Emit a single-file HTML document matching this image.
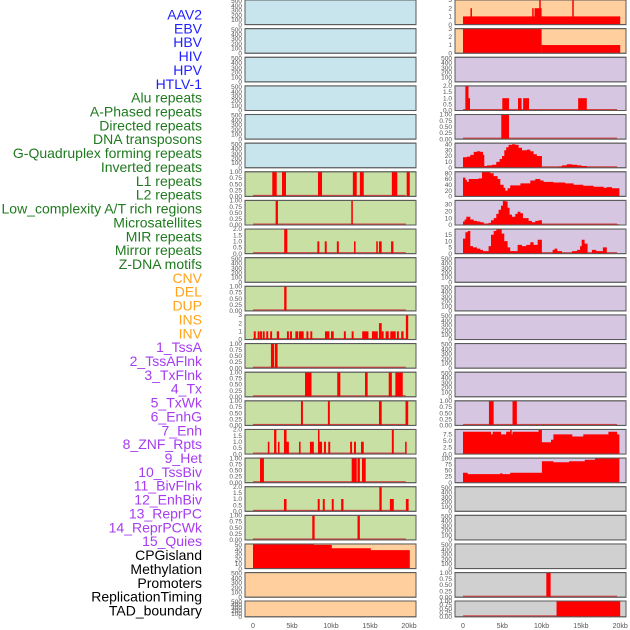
<!DOCTYPE html>
<html><head><meta charset="utf-8"><style>
html,body{margin:0;padding:0;background:#fff;}
svg{display:block;font-family:"Liberation Sans",sans-serif;}
</style></head><body>
<svg id="chart" width="630" height="630" viewBox="0 0 630 630" xmlns="http://www.w3.org/2000/svg"></svg>
<script>
const trackLabels = ["AAV2","EBV","HBV","HIV","HPV","HTLV-1","Alu repeats","A-Phased repeats","Directed repeats","DNA transposons","G-Quadruplex forming repeats","Inverted repeats","L1 repeats","L2 repeats","Low_complexity A/T rich regions","Microsatellites","MIR repeats","Mirror repeats","Z-DNA motifs","CNV","DEL","DUP","INS","INV","1_TssA","2_TssAFlnk","3_TxFlnk","4_Tx","5_TxWk","6_EnhG","7_Enh","8_ZNF_Rpts","9_Het","10_TssBiv","11_BivFlnk","12_EnhBiv","13_ReprPC","14_ReprPCWk","15_Quies","CPGisland","Methylation","Promoters","ReplicationTiming","TAD_boundary"];
const labelColors = ["#1f1fff","#1f7a1f","#ffa31a","#a63cf0","#000000"];
const labelGroupSizes = [6,13,5,15,5];
const xTickValues = [0,5,10,15,20];
const xTickLabels = ["0","5kb","10kb","15kb","20kb"];

// left column bars [startKb, endKb, value]
const L7 = [[2.47,3.04,1],[3.72,4.23,1],[8.33,8.85,1],[12.8,13.3,1],[13.7,14.2,1],[17.8,18.5,1],[19.7,20.1,1]];
const L8 = [[2.9,3.2,1],[12.6,12.8,1]];
const L9 = [[4.0,4.4,2],[8.25,8.5,1],[9.2,9.45,1],[10.75,11,1],[12.95,13.15,1],[15.8,16,1],[16.15,16.5,1],[17.7,18,1]];
const L11 = [[4.0,4.3,1]];
const L12 = [[0.1,0.35,1],[0.6,0.85,1],[0.9,1.15,1],[1.25,1.5,1],[1.7,1.95,1],[2.2,2.45,1],[3.05,3.35,1],[4.35,4.6,1],[4.75,5.0,1],[5.43,5.8,1],[5.9,6.5,1],[6.85,7.1,1],[7.35,7.6,1],[9.23,9.8,1],[10.0,10.35,1],[11.65,11.9,1],[12.65,12.9,1],[14.0,14.8,1],[15.25,16.0,1],[16.15,16.5,2],[16.5,16.75,1],[17.0,17.4,1],[17.6,18.3,1],[18.45,18.7,1],[19.0,19.3,1],[19.6,19.9,3]];
const L13 = [[2.3,2.7,1],[2.8,3.15,1]];
const L14 = [[6.67,7.5,1],[10.8,11.2,1],[14.36,14.7,1],[17.4,17.8,1],[18.25,19.2,1]];
const L15 = [[6.15,6.4,1],[9.6,9.85,1],[16.15,16.5,1],[19.55,19.9,1]];
const L16 = [[1.9,2.1,1],[2.7,3.0,2],[3.2,3.4,1],[3.97,4.3,2],[4.3,4.6,1],[5.9,6.1,1],[7.3,7.8,1],[8.33,8.5,2],[8.5,8.85,1],[9.1,9.35,1],[9.65,9.9,1],[12.45,12.7,1],[12.95,13.2,1],[13.85,14.2,1],[17.8,18.05,2],[19.5,19.7,1]];
const L17 = [[0.9,1.4,1],[12.65,13.3,1],[13.4,13.7,1],[13.97,14.45,1]];
const L18 = [[3.97,4.3,1],[8.3,8.55,1],[8.95,9.2,1],[10.1,10.35,1],[11.3,11.6,1],[16.2,16.5,2],[17.55,18.05,1],[19.6,19.95,1]];
const L19 = [[7.6,7.9,1],[13.4,13.7,1]];
// step series [kb, value] held until next point
const L20 = [[0,51],[2.8,51.5],[7.8,50],[10.1,43],[15.1,39],[20.1,0]];

// right column
const R1 = [[0,20,1],[0.95,1.1,2],[8.8,8.95,2],[9.1,10.0,2],[9.7,9.8,3],[13.9,14.05,3]];
const R2 = [[0,10,3],[10,20,1]];
const R4 = [[0.3,0.7,2],[0.7,0.85,1],[5.0,5.85,1],[7.0,7.45,1],[7.65,8.4,1],[14.65,15.75,1]];
const R5 = [[4.87,5.85,1]];
const R6 = [[0,18],[0.5,19],[0.93,22],[1.36,27],[1.78,28],[2.2,27],[2.54,22],[2.71,3],[3.05,4],[3.69,5],[4.24,10],[4.66,15],[4.96,20],[5.25,30],[5.5,35],[5.8,39],[6.23,40],[6.65,39],[7.08,34],[7.5,30],[8.14,31],[8.56,28],[8.98,23],[9.4,20],[10.04,0],[12.16,2],[12.58,4],[13.2,6],[13.86,5],[14.5,4],[15.1,3],[15.76,0],[19.9,0]];
const R7 = [[0,65],[0.3,57],[0.5,50],[0.72,60],[1.57,60],[2.0,62],[2.42,85],[3.05,85],[3.47,80],[3.9,70],[4.4,60],[4.75,40],[5.17,30],[5.38,20],[5.68,28],[6.0,38],[6.65,38],[7.3,45],[8.14,45],[8.56,55],[9.2,60],[9.83,55],[10.25,50],[11.5,48],[13.0,45],[14.07,40],[15.3,37],[16.6,33],[17.9,30],[18.3,32],[18.94,28],[19.9,0]];
const R8 = [[0,5],[0.2,8],[0.42,12],[0.93,8],[1.36,6],[1.78,5],[2.2,4],[2.63,2],[3.26,3],[3.56,7],[3.9,10],[4.24,16],[4.53,22],[4.83,28],[5.08,35],[5.38,34],[5.68,25],[5.93,15],[6.23,12],[6.65,16],[6.95,19],[7.3,17],[7.63,10],[8.35,6],[8.77,4],[9.2,6],[9.62,7],[10.04,1],[19.9,0]];
const R9 = [[0,12],[0.3,17],[0.6,18],[0.93,6],[1.27,5],[1.78,4],[2.2,3],[2.54,2],[3.26,6],[3.56,15],[3.9,18],[4.24,19.5],[4.92,16],[5.25,10],[5.68,5],[6.0,2],[6.95,7],[7.5,6],[8.05,7],[8.56,9],[8.98,7],[9.5,11],[10.04,0],[11.4,3],[11.65,4],[12.0,2],[12.58,0],[13.86,2],[14.5,3],[14.9,6],[15.1,11],[15.47,8],[15.85,0],[16.4,3],[16.95,2],[17.8,5],[18.3,0],[19.9,0]];
const R15 = [[3.3,3.9,1],[6.3,6.85,1]];
const R16 = [[0,8.5],[3.56,7.5],[3.78,8.5],[4.83,7.5],[5.5,8.5],[6.0,9.3],[6.2,7.5],[6.3,8.5],[9.62,9.3],[10.04,4.5],[11.2,5.5],[11.5,7.5],[13.9,6.7],[15.3,7.5],[18.5,8.5],[19.6,7.5],[19.9,0]];
const R17 = [[0,40],[0.6,35],[4.75,38],[5.0,35],[6.0,40],[10.04,87],[11.5,83],[13.5,87],[15.5,93],[16.8,100],[19.9,0]];
const R21 = [[10.6,11.15,1]];
const R22 = [[11.9,20,1]];

const tickE = [0,100,200,300,400,500];
const tickF = [0,0.25,0.5,0.75,1];
const tickH = [0,0.5,1,1.5,2];
const tickI = [0,1,2,3];
const tick40 = [0,10,20,30,40];
const tick80 = [0,20,40,60,80];
const tick30 = [0,10,20,30];
const tick15 = [0,5,10,15];
const tick75 = [0,2.5,5,7.5];
const tick100 = [0,25,50,75,100];
const tick50 = [0,10,20,30,40,50];

const BLUE="#c8e4ec", GREEN="#c8e0a4", ORANGE="#ffd09e", PURPLE="#d6c6e2", GRAY="#d0d0d0";
function E(bg){return {bg:bg,ticks:tickE,ymax:520,dec:0};}
const leftPanels = [E(BLUE),E(BLUE),E(BLUE),E(BLUE),E(BLUE),E(BLUE),
 {bg:GREEN,ticks:tickF,ymax:1,dec:2,bars:L7},{bg:GREEN,ticks:tickF,ymax:1,dec:2,bars:L8},
 {bg:GREEN,ticks:tickH,ymax:2,dec:1,bars:L9},E(GREEN),
 {bg:GREEN,ticks:tickF,ymax:1,dec:2,bars:L11},{bg:GREEN,ticks:tickI,ymax:3,dec:0,bars:L12},
 {bg:GREEN,ticks:tickF,ymax:1,dec:2,bars:L13},{bg:GREEN,ticks:tickF,ymax:1,dec:2,bars:L14},
 {bg:GREEN,ticks:tickF,ymax:1,dec:2,bars:L15},{bg:GREEN,ticks:tickH,ymax:2,dec:1,bars:L16},
 {bg:GREEN,ticks:tickF,ymax:1,dec:2,bars:L17},{bg:GREEN,ticks:tickH,ymax:2,dec:1,bars:L18},
 {bg:GREEN,ticks:tickF,ymax:1,dec:2,bars:L19},
 {bg:ORANGE,ticks:tick50,ymax:52,dec:0,steps:L20},E(ORANGE),E(ORANGE)];
const rightPanels = [
 {bg:ORANGE,ticks:tickI,ymax:3,dec:0,bars:R1,nobase:true},{bg:ORANGE,ticks:tickI,ymax:3,dec:0,bars:R2,nobase:true},
 E(PURPLE),{bg:PURPLE,ticks:tickH,ymax:2,dec:1,bars:R4},{bg:PURPLE,ticks:tickF,ymax:1,dec:2,bars:R5},
 {bg:PURPLE,ticks:tick40,ymax:42,dec:0,steps:R6},{bg:PURPLE,ticks:tick80,ymax:85,dec:0,steps:R7},
 {bg:PURPLE,ticks:tick30,ymax:35.5,dec:0,steps:R8},{bg:PURPLE,ticks:tick15,ymax:19.6,dec:0,steps:R9},
 E(PURPLE),E(PURPLE),E(PURPLE),E(PURPLE),E(PURPLE),
 {bg:PURPLE,ticks:tickF,ymax:1,dec:2,bars:R15},{bg:PURPLE,ticks:tick75,ymax:9.4,dec:1,steps:R16},
 {bg:PURPLE,ticks:tick100,ymax:100,dec:0,steps:R17},
 E(GRAY),E(GRAY),E(GRAY),{bg:GRAY,ticks:tickF,ymax:1,dec:2,bars:R21},{bg:GRAY,ticks:tickF,ymax:1,dec:2,bars:R22}];

const NS="http://www.w3.org/2000/svg";
const svg=document.getElementById('chart');
function mk(tag,attrs,parent){const e=document.createElementNS(NS,tag);for(const k in attrs)e.setAttribute(k,attrs[k]);(parent||svg).appendChild(e);return e;}

// labels
let li=0;
labelGroupSizes.forEach((n,g)=>{for(let k=0;k<n;k++){
  const t=mk('text',{x:202,y:(19.5+li*13.86).toFixed(1),'text-anchor':'end','font-size':'14',fill:labelColors[g]});
  t.textContent=trackLabels[li];
  
  
  li++;}});

function panelTop(i){return i<21? i*28.63 : 601;}
function panelH(i){return i<21? 24.6 : 15.8;}

function drawColumn(panels,x0,x0kb,pxPerKb,colName){
  const xs=kb=>x0kb+kb*pxPerKb;
  panels.forEach((p,i)=>{
    const top=panelTop(i),h=panelH(i),w=171,bot=top+h;
    const g=mk('g',{});
    
    
    const bg=mk('rect',{x:x0,y:top,width:w,height:h,fill:p.bg,stroke:'#5a5a5a','stroke-width':1},g);
    
    
    const ys=v=>bot-(v/p.ymax)*h;
    if(p.bars||p.steps){
      if(!p.nobase){
        const bl=mk('rect',{x:xs(0),y:bot-1.5,width:19.6*pxPerKb,height:1.5,fill:'#d04040'},g);
        
        
      }
    }
    if(p.bars){p.bars.forEach(b=>{
      const r=mk('rect',{x:xs(b[0]),y:ys(b[2]),width:Math.max(1.5,xs(b[1])-xs(b[0])),height:bot-ys(b[2]),fill:'#ff0000'},g);
      
      
    });}
    if(p.steps){
      let d='M'+xs(p.steps[0][0])+' '+bot;
      for(let k=0;k<p.steps.length-1;k++){
        d+=' L'+xs(p.steps[k][0]).toFixed(1)+' '+ys(p.steps[k][1]).toFixed(1)+' L'+xs(p.steps[k+1][0]).toFixed(1)+' '+ys(p.steps[k][1]).toFixed(1);
      }
      d+=' L'+xs(p.steps[p.steps.length-1][0]).toFixed(1)+' '+bot+' Z';
      const a=mk('path',{d:d,fill:'#ff0000'},g);
      
      
    }
    // border on top
    mk('rect',{x:x0,y:top,width:w,height:h,fill:'none',stroke:'#5a5a5a','stroke-width':1},g);
    p.ticks.forEach(v=>{
      const t=mk('text',{x:x0-3,y:(ys(v)+2.2).toFixed(1),'text-anchor':'end','font-size':'6.5',fill:'#555'},g);
      t.textContent=v.toFixed(p.dec);
      
      
    });
  });
  xTickValues.forEach((v,k)=>{
    const t=mk('text',{x:xs(v),y:628,'text-anchor':'middle','font-size':'7',fill:'#555'});
    t.textContent=xTickLabels[k];
    
    
  });
}
drawColumn(leftPanels,245,253,7.8,'left');
drawColumn(rightPanels,455,463,7.86,'right');
</script>
</body></html>
